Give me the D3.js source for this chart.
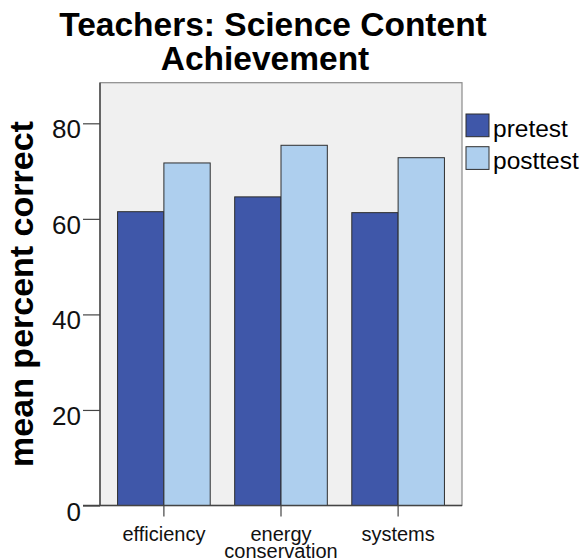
<!DOCTYPE html>
<html><head><meta charset="utf-8">
<script src="https://cdn.jsdelivr.net/npm/d3@7"></script>
<style>body{margin:0;background:#fff;} text{font-family:"Liberation Sans",Arial,sans-serif;}</style>
</head><body><svg id="c" width="587" height="560"></svg>
<script>
const categories = [["efficiency"], ["energy", "conservation"], ["systems"]];
const seriesNames = ["pretest", "posttest"];
const pretest = [61.5, 64.6, 61.3];
const posttest = [71.7, 75.4, 72.8];
const yTicks = [0, 20, 40, 60, 80];
const colors = ["#3f57a9", "#aecfee"];

const svg = d3.select("#c");
const L = 100, R = 462, T = 82.7, B = 505.5;
const y = d3.scaleLinear().domain([0, 88.5]).range([B, T]);
const keys = categories.map(c => c.join(" "));
const x0 = d3.scaleBand().domain(keys).range([L, R]).paddingInner(0.209).paddingOuter(0.15);
const x1 = d3.scaleBand().domain(seriesNames).range([0, x0.bandwidth()]);
const values = [pretest, posttest];

svg.append("rect").attr("x", L).attr("y", T).attr("width", R - L).attr("height", B - T)
  .attr("fill", "#f0f0f0").attr("stroke", "#8a8a8a").attr("stroke-width", 1.2);

const g = svg.append("g");
keys.forEach((k, i) => {
  seriesNames.forEach((s, j) => {
    g.append("rect")
      .attr("x", x0(k) + x1(s)).attr("y", y(values[j][i]))
      .attr("width", x1.bandwidth()).attr("height", B - y(values[j][i]))
      .attr("fill", colors[j]).attr("stroke", "#2e2e2e").attr("stroke-width", 1);
  });
});

// y axis
const ya = svg.append("g").attr("transform", `translate(${L},0)`)
  .call(d3.axisLeft(y).tickValues(yTicks).tickSize(17).tickPadding(2));
ya.select(".domain").remove();
ya.selectAll(".tick line").attr("stroke", "#444").attr("stroke-width", 1.2);
ya.selectAll(".tick text").attr("font-size", 26).attr("fill", "#111")
  .attr("font-family", "Liberation Sans, Arial, sans-serif").attr("dy", 14.5);
svg.append("line").attr("x1", L).attr("x2", L).attr("y1", T).attr("y2", B).attr("stroke", "#444").attr("stroke-width", 1.4);

// x axis
const xa = svg.append("g").attr("transform", `translate(0,${B})`)
  .call(d3.axisBottom(x0).tickSize(11).tickFormat(""));
xa.select(".domain").remove();
xa.selectAll(".tick line").attr("stroke", "#444").attr("stroke-width", 1.2);
svg.append("line").attr("x1", L - 17).attr("x2", R).attr("y1", B).attr("y2", B).attr("stroke", "#444").attr("stroke-width", 1.4);
categories.forEach((c, i) => {
  const cx = x0(keys[i]) + x0.bandwidth() / 2;
  const t = svg.append("text").attr("x", cx).attr("y", 540.5)
    .attr("text-anchor", "middle").attr("font-size", 20).attr("fill", "#111");
  c.forEach((line, li) => t.append("tspan").attr("x", cx).attr("dy", li ? 17 : 0).text(line));
});

// title
const title = svg.append("text").attr("x", 273).attr("y", 36).attr("text-anchor", "middle")
  .attr("font-size", 33.5).attr("font-weight", "bold").attr("fill", "#000");
title.append("tspan").attr("x", 273).attr("dy", 0).text("Teachers: Science Content");
title.append("tspan").attr("x", 265).attr("dy", 34).text("Achievement");

// y label
svg.append("text").attr("transform", "translate(33,294) rotate(-90)").attr("text-anchor", "middle")
  .attr("font-size", 34).attr("font-weight", "bold").attr("fill", "#000").text("mean percent correct");

// legend
seriesNames.forEach((s, j) => {
  const yy = 114 + j * 32.7;
  svg.append("rect").attr("x", 466).attr("y", yy).attr("width", 23).attr("height", 22.7)
    .attr("fill", colors[j]).attr("stroke", "#2e2e2e").attr("stroke-width", 1);
  svg.append("text").attr("x", 493).attr("y", yy + 22.5).attr("font-size", 24.5).attr("fill", "#000").text(s);
});
</script></body></html>
